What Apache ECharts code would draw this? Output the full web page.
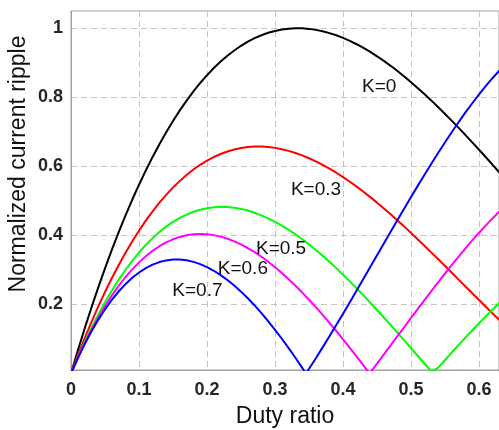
<!DOCTYPE html>
<html><head><meta charset="utf-8">
<script src="https://cdn.jsdelivr.net/npm/echarts@6/dist/echarts.min.js"></script>
<style>html,body{margin:0;padding:0;background:#fff}#c{width:499px;height:430px}</style>
</head><body><div id="c"></div>
<script>
// x values (duty ratio)
const duty = [0,0.01,0.02,0.03,0.04,0.05,0.06,0.07,0.08,0.09,0.10,0.11,0.12,0.13,0.14,0.15,0.16,0.17,0.18,0.19,0.20,0.21,0.22,0.23,0.24,0.25,0.26,0.27,0.28,0.29,0.30,0.31,0.32,0.33,0.34,0.35,0.36,0.37,0.38,0.39,0.40,0.41,0.42,0.43,0.44,0.45,0.46,0.47,0.48,0.49,0.50,0.51,0.52,0.53,0.54,0.55,0.56,0.57,0.58,0.59,0.60,0.61,0.62,0.63];
// normalized current ripple
const k0  = [0,0.0662,0.1297,0.1905,0.2488,0.3046,0.3579,0.4087,0.4571,0.5031,0.5468,0.5881,0.6273,0.6642,0.6989,0.7315,0.7621,0.7905,0.8170,0.8415,0.8640,0.8847,0.9035,0.9205,0.9357,0.9492,0.9610,0.9712,0.9798,0.9868,0.9923,0.9962,0.9988,0.9999,0.9997,0.9982,0.9953,0.9913,0.9860,0.9796,0.9720,0.9634,0.9537,0.9430,0.9314,0.9188,0.9054,0.8912,0.8761,0.8603,0.8438,0.8265,0.8087,0.7903,0.7713,0.7518,0.7318,0.7114,0.6906,0.6695,0.6480,0.6263,0.6043,0.5822];
const k03 = [0,0.0521,0.1017,0.1488,0.1936,0.2359,0.2759,0.3136,0.3491,0.3824,0.4136,0.4426,0.4696,0.4946,0.5175,0.5386,0.5578,0.5751,0.5907,0.6045,0.6166,0.6270,0.6358,0.6430,0.6488,0.6530,0.6558,0.6572,0.6572,0.6560,0.6535,0.6497,0.6448,0.6388,0.6317,0.6235,0.6144,0.6043,0.5933,0.5815,0.5688,0.5553,0.5412,0.5263,0.5108,0.4948,0.4781,0.4610,0.4434,0.4254,0.4070,0.3883,0.3694,0.3501,0.3307,0.3112,0.2915,0.2718,0.2521,0.2324,0.2127,0.1932,0.1739,0.1548];
const k05 = [0,0.0466,0.0904,0.1316,0.1702,0.2063,0.2398,0.2710,0.2997,0.3262,0.3503,0.3723,0.3920,0.4097,0.4253,0.4389,0.4506,0.4603,0.4683,0.4744,0.4788,0.4815,0.4826,0.4822,0.4802,0.4767,0.4719,0.4657,0.4581,0.4494,0.4394,0.4283,0.4162,0.4030,0.3888,0.3737,0.3577,0.3409,0.3234,0.3051,0.2862,0.2667,0.2467,0.2261,0.2051,0.1838,0.1621,0.1401,0.1179,0.0956,0.0731,0.0506,0.0281,0.0056,0.0168,0.0390,0.0610,0.0827,0.1041,0.1252,0.1458,0.1659,0.1855,0.2046];
const k06 = [0,0.0448,0.0866,0.1255,0.1616,0.1949,0.2255,0.2534,0.2787,0.3015,0.3218,0.3397,0.3553,0.3686,0.3797,0.3886,0.3955,0.4003,0.4032,0.4042,0.4033,0.4007,0.3964,0.3904,0.3828,0.3738,0.3632,0.3513,0.3381,0.3236,0.3079,0.2910,0.2731,0.2542,0.2343,0.2136,0.1920,0.1696,0.1466,0.1230,0.0987,0.0740,0.0488,0.0233,0.0026,0.0287,0.0550,0.0814,0.1079,0.1344,0.1608,0.1871,0.2132,0.2391,0.2646,0.2898,0.3145,0.3386,0.3623,0.3853,0.4075,0.4291,0.4498,0.4696];
const k07 = [0,0.0440,0.0844,0.1215,0.1553,0.1858,0.2131,0.2374,0.2586,0.2770,0.2924,0.3052,0.3152,0.3226,0.3275,0.3299,0.3300,0.3278,0.3233,0.3167,0.3081,0.2975,0.2850,0.2707,0.2547,0.2370,0.2177,0.1970,0.1748,0.1512,0.1265,0.1005,0.0734,0.0454,0.0163,0.0136,0.0442,0.0756,0.1076,0.1401,0.1731,0.2065,0.2402,0.2741,0.3082,0.3423,0.3764,0.4105,0.4443,0.4779,0.5112,0.5441,0.5765,0.6083,0.6395,0.6699,0.6995,0.7283,0.7561,0.7828,0.8084,0.8328,0.8560,0.8777];
// zero-ripple points (V vertices)
const k05Zero = [0.5325, 0];
const k06Zero = [0.439, 0];
const k07Zero = [0.3455, 0];
// tick labels
const xTicks = [0, 0.1, 0.2, 0.3, 0.4, 0.5, 0.6];
const yTicks = [0.2, 0.4, 0.6, 0.8, 1];
const seriesNames = ['K=0', 'K=0.3', 'K=0.5', 'K=0.6', 'K=0.7'];
const seriesColors = ['#000000', '#ff0000', '#00ff00', '#ff00ff', '#0000ff'];
// curve annotation anchors (data coords, left/middle of text)
const annotX = [0.428, 0.3233, 0.272, 0.2158, 0.149];
const annotY = [0.831, 0.531, 0.3605, 0.3046, 0.2409];

function pairs(ys, vertex) {
  const d = duty.map((x, i) => [x, ys[i]]);
  if (vertex) { d.push(vertex); d.sort((a, b) => a[0] - b[0]); }
  return d;
}
const curves = [pairs(k0), pairs(k03), pairs(k05, k05Zero), pairs(k06, k06Zero), pairs(k07, k07Zero)];

const FONT = '"Liberation Sans", Arial, Helvetica, sans-serif';
const axisCol = '#a0a0a0';
const gridLine = { show: true, lineStyle: { color: '#c4c4c4', type: [6, 4], width: 1 } };
const tickLabel = { fontSize: 18, fontWeight: 'bold', color: '#262626', fontFamily: FONT };

const chart = echarts.init(document.getElementById('c'), null, { renderer: 'canvas' });
const series = curves.map((d, i) => ({
  name: seriesNames[i], type: 'line', data: d, showSymbol: false, symbol: 'none',
  lineStyle: { color: seriesColors[i], width: 2 }, itemStyle: { color: seriesColors[i] },
  clip: true, z: 3, silent: true
}));
series.push({
  type: 'scatter', symbolSize: 0, z: 5, silent: true,
  itemStyle: { opacity: 1, color: 'rgba(0,0,0,0)' },
  data: seriesNames.map((n, i) => ({ value: [annotX[i], annotY[i]], name: n })),
  label: { show: true, position: 'right', distance: 0, formatter: p => p.name, opacity: 1,
    fontSize: 19, color: '#111111', fontFamily: FONT }
});
chart.setOption({
  animation: false,
  backgroundColor: '#ffffff',
  grid: { left: 71, right: -2, top: 11, bottom: 60, show: true, borderColor: axisCol, borderWidth: 1, backgroundColor: 'transparent' },
  xAxis: {
    type: 'value', min: 0, max: 0.6293, interval: 0.1,
    axisLine: { show: true, lineStyle: { color: axisCol, width: 1 } },
    axisTick: { show: false },
    axisLabel: Object.assign({ margin: 11, showMaxLabel: false,
      formatter: v => (xTicks.some(t => Math.abs(t - v) < 1e-9) ? String(+v.toFixed(1)) : '') }, tickLabel),
    splitLine: gridLine
  },
  yAxis: {
    type: 'value', min: 0.01, max: 1.05,
    axisLine: { show: true, lineStyle: { color: axisCol, width: 1 } },
    axisTick: { show: false, customValues: yTicks },
    axisLabel: Object.assign({ margin: 8, customValues: yTicks, formatter: v => String(+v.toFixed(1)) }, tickLabel),
    splitLine: gridLine
  },
  graphic: [
    { type: 'text', x: 19, y: 164, rotation: Math.PI / 2, silent: true,
      style: { text: 'Normalized current ripple', fontSize: 23, fontFamily: FONT, fill: '#111111', align: 'center', verticalAlign: 'middle' } },
    { type: 'text', x: 285, y: 417, silent: true,
      style: { text: 'Duty ratio', fontSize: 23, fontFamily: FONT, fill: '#111111', align: 'center', verticalAlign: 'middle' } }
  ],
  series: series
});
</script></body></html>
